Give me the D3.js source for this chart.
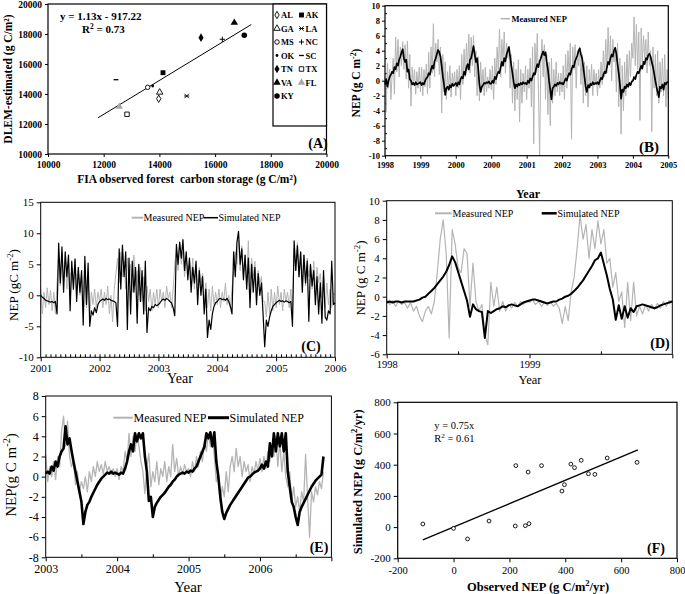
<!DOCTYPE html>
<html><head><meta charset="utf-8">
<script src="https://cdn.jsdelivr.net/npm/d3@7"></script>
<style>body{margin:0;background:#fff}svg{display:block}</style>
</head><body>
<script>
// ---------------- DATA ----------------
// (A) state-level carbon storage
const aStates    = ["AL","AK","GA","LA","MS","NC","OK","SC","TN","TX","VA","FL","KY"];
const aObserved  = [13975,14129,14010,14980,13580,16259,13759,12442,15494,12837,16690,12560,17048];
const aEstimated = [13687,15420,14113,13867,14447,17647,14533,14953,17753,12647,18753,13153,17913];
const aTicks = [10000,12000,14000,16000,18000,20000];
const aFit = {slope:1.13, intercept:-917.22, from:11800, to:17300};

// (B) 30 samples per year, 8 seasonal cycles
const bPerYear = 30;
const bYearLabels = ["1998","1999","2000","2000","2001","2002","2003","2004","2005"];
const bMeasured = [
 0.5,-4.2,2.3,-1.0,1.5,-2.5,0.8,3.0,-1.8,5.8,1.2,5.5,0.5,4.5,2.0,5.2,1.5,4.8,0.2,5.3,-1.0,3.5,-3.4,1.8,-0.5,1.5,-1.8,1.2,-1.0,1.8,
 -1.5,1.8,-2.0,1.5,-0.8,2.2,-1.8,3.8,-1.0,4.5,1.0,7.6,0.5,5.0,2.5,5.5,0.8,4.5,-4.3,3.5,-1.5,2.5,-2.5,1.2,-1.2,2.0,-2.2,1.0,-0.5,1.2,
 -2.0,1.5,-1.0,2.0,-2.5,3.5,-0.5,4.2,0.5,5.0,1.5,6.2,1.0,5.8,2.0,6.0,0.5,4.0,-2.0,3.2,-2.7,2.5,-1.0,1.5,-2.0,1.8,-1.5,0.5,-1.0,1.5,
 -1.2,2.0,-2.5,3.0,-0.5,4.5,1.0,6.9,0.5,5.5,2.5,6.5,1.0,5.0,3.0,4.5,-1.0,3.5,-3.0,2.5,-4.0,1.5,-2.5,2.8,-5.5,1.5,-3.0,1.0,-1.5,2.0,
 -2.5,1.5,-1.0,3.0,-3.5,4.5,-8.4,5.0,1.0,6.3,-1.5,-10.0,2.5,5.5,0.5,4.8,-2.5,3.5,-4.5,2.5,-6.0,3.0,-3.0,1.5,-2.0,2.5,-1.5,1.0,-2.0,1.0,
 -1.5,2.0,-2.5,3.5,-1.0,4.0,0.5,5.0,-7.8,4.5,1.5,4.8,-1.0,4.0,2.0,4.5,-0.5,3.5,-3.0,2.5,-2.0,2.0,-3.5,1.5,-1.0,2.2,-2.0,1.5,-0.5,1.0,
 -2.0,1.5,-1.0,2.5,-0.5,4.0,0.5,5.5,1.0,7.1,2.0,6.0,0.0,5.5,2.5,4.0,-1.5,5.0,-3.5,3.0,-7.1,2.0,-4.0,2.5,-2.0,3.5,-1.0,4.0,0.5,5.0,
 3.0,8.5,2.0,7.5,1.5,6.5,-5.3,7.0,2.5,6.0,3.0,5.5,1.0,6.5,2.0,4.0,-6.8,4.5,-1.0,3.5,-2.0,4.0,-3.0,2.5,-1.5,3.0,-2.0,3.5,-3.5,1.5,
 -2.4];
const bSimulated = [
 -0.5,0.2,-0.8,0.0,0.5,0.8,1.2,1.0,1.8,1.5,2.3,2.0,2.8,3.2,3.8,4.2,3.0,2.5,2.8,1.2,1.5,0.2,0.0,-0.5,-0.3,-0.6,-0.2,-0.5,-0.4,-0.3,
 -0.2,-0.6,-0.3,-0.5,0.0,0.3,0.5,1.0,0.8,1.5,2.0,1.6,2.6,3.0,3.6,4.1,3.8,3.2,2.0,0.5,-0.5,-1.9,-1.0,-0.8,-1.2,-0.6,-0.9,-0.4,-0.7,-0.5,
 -0.3,-0.7,-0.2,-0.5,0.2,0.5,0.3,1.2,0.8,1.8,2.2,1.5,2.8,3.0,3.8,4.6,3.5,2.5,3.0,1.5,-0.5,-1.5,-0.8,-0.6,-0.3,-0.4,-0.2,-0.3,-0.1,-0.4,
 -0.4,0.0,-0.3,0.5,0.2,0.8,1.2,1.0,1.8,2.5,2.0,3.0,2.6,3.5,4.0,4.5,3.2,2.0,1.0,-0.2,-1.0,-0.5,-0.8,-0.4,-0.6,-0.3,-0.5,-0.2,-0.4,-0.3,
 -0.5,0.0,-0.3,0.3,0.0,0.5,1.0,0.8,1.6,2.2,1.8,2.6,3.0,3.5,3.9,3.4,3.8,2.5,1.5,0.0,-1.2,-2.5,-1.0,-0.8,-0.5,-0.7,-0.3,-0.5,-0.2,-0.4,
 -0.3,-0.5,-0.1,0.3,0.0,0.6,1.0,0.8,1.5,2.0,1.8,2.6,3.0,3.4,4.0,4.3,3.5,3.0,1.8,0.5,-0.8,-1.5,-0.6,-0.9,-0.4,-0.6,-0.2,-0.5,-0.3,-0.4,
 -0.2,-0.5,0.0,0.4,0.2,0.8,1.2,1.0,1.8,2.5,2.2,3.0,3.5,3.2,4.0,4.4,3.6,2.2,1.0,-0.5,-2.4,-1.2,-1.5,-0.8,-1.0,-0.5,-0.8,-0.3,-0.6,-0.1,
 0.0,0.5,0.2,0.8,1.2,1.0,1.5,2.0,1.6,2.5,2.2,3.0,2.8,3.4,3.6,3.2,2.5,1.8,1.0,0.0,-0.8,-1.5,-2.2,-0.8,-1.0,-0.5,-1.2,-0.3,-0.5,-0.2,
 -0.2];

// (C) 36 samples per year, 2001-2006
const cPerYear = 36, cStart = 2001;
const cMeasured = [
 1.0,-3.0,0.5,-2.0,1.2,-1.5,0.8,-2.5,0.5,-3.0,2.0,6.5,1.5,7.0,2.5,6.0,1.0,5.5,0.0,4.5,2.0,6.0,1.0,4.0,0.0,3.5,-1.0,5.0,-2.0,3.0,-3.0,0.5,-1.5,1.0,-2.0,0.5,
 -1.0,1.0,-2.0,0.5,-1.5,1.5,-3.0,0.0,-4.3,1.0,3.5,6.0,2.0,7.0,3.0,5.5,1.0,6.0,2.0,5.0,0.5,6.5,1.5,4.0,0.0,4.5,-1.0,3.0,-2.5,1.5,-1.0,1.0,-2.5,0.5,-1.5,1.0,
 -2.0,1.0,-1.0,0.5,-2.0,1.5,-0.5,0.5,-2.0,1.0,5.0,7.5,4.0,8.5,5.0,7.0,3.0,6.0,4.0,5.5,2.5,6.0,1.0,5.0,0.5,4.5,2.0,3.5,-1.0,2.0,-2.0,1.0,-2.5,1.5,-1.5,0.5,
 -1.5,1.0,-2.0,0.5,-1.0,2.0,-1.5,0.0,-2.0,1.0,4.0,7.0,5.0,9.0,4.0,8.0,3.5,6.5,2.0,8.8,1.5,6.0,3.0,5.5,0.5,4.0,2.0,3.0,-1.0,-1.0,-3.5,0.5,-3.0,1.0,-2.5,0.5,
 -2.0,1.5,-1.5,0.5,-2.5,1.0,-1.0,0.5,-2.0,1.0,-3.0,7.5,4.0,8.5,3.0,7.0,2.5,6.5,1.5,6.0,3.0,5.0,1.0,5.5,0.5,4.5,2.0,3.5,-0.5,3.0,-2.0,2.0,-1.5,1.0,-2.0,0.5,
 0.0];
const cSimulated = [
 0.0,-0.3,-0.5,-0.8,-0.9,-1.0,-1.1,-1.0,-1.2,-1.0,-3.0,8.4,2.0,7.8,0.5,7.0,3.0,6.5,-2.5,5.5,1.0,5.8,-1.0,4.5,0.5,4.0,-4.8,6.3,-1.5,5.2,-5.0,-2.5,-3.2,-2.0,-2.8,-1.5,
 -1.0,-0.8,-0.6,-0.8,-0.5,-0.7,-0.6,-0.8,-0.9,-1.0,-1.2,-5.0,7.5,1.0,8.1,3.0,7.0,-5.5,6.0,-3.0,5.5,0.5,4.5,-4.5,5.0,-1.0,4.0,-3.0,5.5,-6.0,-2.0,-2.5,-1.8,-2.0,-1.5,-1.7,
 -1.5,-1.2,-0.8,-0.6,-0.8,-0.5,-0.7,-1.0,-1.2,-2.0,-3.3,8.2,5.0,8.6,6.0,9.0,4.0,7.0,2.5,6.0,0.5,4.5,2.0,5.5,-1.5,4.0,0.0,3.0,-3.0,1.0,-6.8,-4.0,-5.5,-3.0,-1.8,-1.2,
 -1.0,-0.6,-0.5,-0.7,-0.6,-0.8,-0.5,-1.0,-1.8,-3.0,7.0,3.0,8.5,10.3,5.0,7.5,2.5,6.5,1.0,6.0,-2.0,5.0,0.5,4.5,-1.5,3.5,0.0,2.0,-3.0,-8.3,-4.0,-5.0,-3.5,-2.5,-1.8,-1.5,
 -1.2,-1.0,-0.8,-1.0,-0.9,-1.1,-0.9,-1.0,-1.2,-1.0,-5.0,8.8,4.0,8.0,3.0,7.0,0.5,6.5,2.0,5.5,-4.2,5.0,1.5,4.0,-1.5,3.0,-3.0,2.0,-4.5,4.0,-3.5,-4.0,-2.5,-3.0,5.5,-1.5,
 -1.2];

// (D) 48 samples per year, 1998-2000
const dPerYear = 48, dStart = 1998;
const dMeasured = [
 -0.3,-0.8,-0.4,-1.0,-0.5,-0.8,-0.6,-1.2,-0.6,-1.5,-1.0,-2.0,-2.6,-1.5,-1.0,-1.8,-0.5,
 2.5,6.0,8.0,4.5,-4.3,7.0,5.5,3.0,2.5,5.0,4.5,-1.0,3.5,-0.5,-1.5,-0.8,-4.0,-5.0,
 1.5,-1.0,1.0,-1.5,-0.5,-1.5,-0.8,-1.2,-0.6,-1.0,-0.5,-0.8,-0.4,
 -0.6,-0.3,-0.8,-0.5,-1.0,-0.6,-0.9,-0.5,-1.0,-0.7,-1.2,-2.8,-1.0,-2.5,
 0.5,2.0,5.0,8.5,6.0,7.5,4.0,7.0,5.0,7.9,5.5,7.0,3.5,4.0,1.0,2.5,-0.5,0.5,
 -3.2,1.5,-2.5,1.5,-2.0,-1.0,-1.8,-0.8,-1.5,-0.8,-1.3,-0.7,-1.2,-0.5,-1.0,-0.4,-0.6];
const dSimulated = [
 -0.6,-0.5,-0.6,-0.5,-0.5,-0.6,-0.5,-0.5,-0.5,
 -0.5,-0.4,-0.3,-0.1,0.0,0.3,0.6,0.9,1.3,1.7,2.1,2.6,3.3,
 4.2,3.6,2.6,1.6,0.6,-0.4,-2.1,-0.8,-1.3,-1.5,-1.6,
 -4.3,
 -1.5,-1.7,-1.5,-1.3,-1.2,-1.0,-1.1,-0.9,-0.8,-0.9,-1.0,-0.8,-0.6,-0.5,
 -0.4,-0.3,-0.3,-0.4,-0.5,-0.6,-0.7,-0.6,-0.5,-0.5,-0.3,-0.2,
 0.0,0.1,0.3,0.6,0.9,1.3,1.7,2.2,2.7,3.2,3.8,4.0,
 4.6,3.4,2.2,0.8,-0.3,-2.4,-0.9,-2.3,-1.0,-2.2,-1.2,-1.6,
 -1.0,-0.9,-0.8,-0.9,-1.0,-1.1,-1.2,-1.1,-0.9,-0.8,-0.7,-0.6,-0.5];

// (E) 36 samples per year from 2003
const ePerYear = 36, eStart = 2003;
const eMeasured = [
 2.2,-0.5,1.0,0.0,1.5,-0.3,2.0,1.0,4.5,6.0,3.0,5.5,2.0,1.0,1.5,-0.8,0.5,-1.5,-0.5,-1.2,0.0,-1.5,0.5,-0.5,1.0,0.0,1.5,0.5,1.2,0.3,1.5,0.5,1.0,0.2,0.8,0.0,
 0.8,-0.3,1.0,0.5,2.5,1.5,4.3,2.0,4.0,2.5,4.3,3.0,1.5,0.5,-1.7,1.0,2.3,-1.0,0.5,-0.5,1.5,-0.8,0.8,0.0,1.5,-0.5,1.0,0.0,3.2,0.5,1.8,0.0,1.0,0.2,1.2,0.5,
 0.8,0.0,1.5,0.5,2.0,1.0,2.5,1.5,3.5,2.5,4.3,3.0,4.0,2.0,-0.5,0.5,-2.5,-1.0,-2.0,0.5,-1.5,1.0,2.0,0.5,2.8,1.0,2.0,0.0,1.5,0.5,1.2,-0.5,1.0,0.3,1.5,0.5,
 1.8,0.5,2.0,0.8,2.5,1.5,3.0,2.0,4.0,1.0,3.5,0.5,2.5,0.0,-1.0,0.5,-2.5,-1.0,-3.0,-2.0,-3.5,-1.5,-2.5,2.2,-2.0,-6.0,-1.5,-2.5,-1.0,-1.8,-0.5,-1.2,0.5];
const eSimulated = [
 0.3,0.5,0.3,1.0,0.6,1.5,1.0,2.0,2.5,2.8,5.0,3.2,3.8,2.6,1.5,0.5,-0.5,-1.5,-2.5,-4.7,-3.5,-2.8,-2.5,-2.0,-1.6,-1.2,-0.8,-0.5,-0.2,0.0,0.2,0.4,0.3,0.5,0.3,0.4,
 0.3,0.2,0.4,0.3,0.8,1.5,2.5,3.2,2.5,4.3,3.5,4.3,3.8,4.3,2.0,0.5,-2.4,-2.0,-4.0,-3.0,-2.6,-2.3,-2.0,-1.8,-1.6,-1.3,-1.0,-0.8,-0.5,-0.3,0.0,0.2,0.3,0.4,0.3,0.5,
 0.4,0.6,0.5,0.8,1.0,1.5,2.0,2.5,3.0,4.3,3.8,4.4,3.0,4.4,1.5,0.0,-2.0,-3.5,-4.2,-3.6,-3.2,-2.8,-2.5,-2.2,-1.9,-1.6,-1.3,-1.0,-0.7,-0.4,-0.1,0.0,0.2,0.4,0.5,0.6,
 0.8,1.2,0.8,1.5,1.0,3.3,2.0,4.3,2.5,4.3,3.0,4.3,2.5,4.3,0.5,-1.0,-2.5,-3.0,-4.0,-4.8,-3.5,-3.0,-2.6,-2.2,-1.8,-1.4,-1.0,-0.7,-0.4,-0.2,0.0,0.2,2.0];

// (F) annual NEP per site
const fObserved  = [-110,0,50,127,223,221,267,257,270,315,388,397,420,433,457,483,506,550,657];
const fSimulated = [20,-8,-76,39,394,7,353,9,22,394,231,272,404,381,428,342,338,443,415];
const fFit = {slope:0.75, from:-110, to:660};
const fTicks = [-200,0,200,400,600,800];

// ---------------- DRAWING ----------------
const serif = '"Liberation Serif","Times New Roman",Times,serif';
const GRAY = '#b4b4b4';
const svg = d3.select('body').append('svg').attr('width',685).attr('height',594);
svg.append('rect').attr('width',685).attr('height',594).attr('fill','#fff');

function txt(x, y, parts, o) {
  o = o || {};
  const fs = o.size || 12;
  const t = svg.append('text').attr('font-family', serif).attr('font-size', fs)
    .attr('font-weight', o.bold ? 'bold' : 'normal').attr('text-anchor', o.anchor || 'start').attr('fill','#000');
  if (o.rotate) t.attr('transform', `translate(${x},${y}) rotate(-90)`); else t.attr('x', x).attr('y', y);
  let lift = 0;
  [].concat(parts).forEach(p => {
    const s = t.append('tspan');
    if (Array.isArray(p)) { s.attr('dy', -0.38*fs).attr('font-size', 0.68*fs).text(p[0]); lift = 0.38*fs; }
    else { s.text(p); if (lift) { s.attr('dy', lift); lift = 0; } }
  });
  return t;
}
function axis(gen, tx, ty, size, bold) {
  const g = svg.append('g').attr('transform', `translate(${tx},${ty})`).call(gen);
  g.attr('font-family', serif).attr('font-size', size).attr('font-weight', bold ? 'bold' : 'normal');
  g.select('.domain').remove();
  g.selectAll('line').attr('stroke','#000');
  return g;
}
function frame(x, y, sw) {
  svg.append('rect').attr('x', x.range()[0]).attr('y', y.range()[1])
    .attr('width', x.range()[1]-x.range()[0]).attr('height', y.range()[0]-y.range()[1])
    .attr('fill','none').attr('stroke','#000').attr('stroke-width', sw || 1);
}
function series(data, xf, y, color, w) {
  svg.append('path').datum(data).attr('fill','none').attr('stroke', color).attr('stroke-width', w)
    .attr('stroke-linejoin','round')
    .attr('d', d3.line().x((d,i) => xf(i)).y(d => y(d)));
}
const plain = d => String(d);

// ===== Panel A =====
const ax = d3.scaleLinear().domain([10000,20000]).range([48,326.5]);
const ay = d3.scaleLinear().domain([10000,20000]).range([154,4]);
axis(d3.axisBottom(ax).tickValues(aTicks).tickFormat(plain).tickSize(3).tickPadding(4), 0, 154, 9.5, true);
axis(d3.axisLeft(ay).tickValues(aTicks).tickFormat(plain).tickSize(3).tickPadding(3), 48, 0, 9.5, true);
frame(ax, ay, 1.2);
svg.append('line').attr('x1', ax(aFit.from)).attr('y1', ay(aFit.slope*aFit.from + aFit.intercept))
  .attr('x2', ax(aFit.to)).attr('y2', ay(aFit.slope*aFit.to + aFit.intercept)).attr('stroke','#000').attr('stroke-width',1);

const aMarker = {AL:'diamondOpen', AK:'squareFilled', GA:'triangleOpen', LA:'times', MS:'circleOpen', NC:'plus',
  OK:'dot', SC:'dash', TN:'diamondFilled', TX:'squareOpen', VA:'triangleFilled', FL:'triangleGray', KY:'circleFilled'};
function marker(kind, cx, cy) {
  const g = svg.append('g').attr('transform', `translate(${cx},${cy})`);
  const sym = (type, size) => g.append('path').attr('d', d3.symbol().type(type).size(size)());
  switch (kind) {
    case 'diamondOpen': sym(d3.symbolDiamond, 16).attr('fill','#fff').attr('stroke','#000').attr('stroke-width',0.9); break;
    case 'diamondFilled': sym(d3.symbolDiamond, 22).attr('fill','#000'); break;
    case 'squareFilled': sym(d3.symbolSquare, 24).attr('fill','#000'); break;
    case 'squareOpen': sym(d3.symbolSquare, 20).attr('fill','#fff').attr('stroke','#000').attr('stroke-width',0.9); break;
    case 'triangleOpen': sym(d3.symbolTriangle, 18).attr('fill','#fff').attr('stroke','#000').attr('stroke-width',0.9); break;
    case 'triangleFilled': sym(d3.symbolTriangle, 24).attr('fill','#000'); break;
    case 'triangleGray': sym(d3.symbolTriangle, 24).attr('fill','#a8a8a8'); break;
    case 'circleOpen': sym(d3.symbolCircle, 16).attr('fill','#fff').attr('stroke','#000').attr('stroke-width',0.9); break;
    case 'circleFilled': sym(d3.symbolCircle, 24).attr('fill','#000'); break;
    case 'dot': sym(d3.symbolCircle, 6).attr('fill','#000'); break;
    case 'plus': g.append('path').attr('d','M-2.6,0H2.6M0,-2.6V2.6').attr('stroke','#000').attr('stroke-width',1); break;
    case 'times': g.append('path').attr('d','M-2.2,-2.2L2.2,2.2M-2.2,2.2L2.2,-2.2M-2.6,0H2.6').attr('stroke','#000').attr('stroke-width',0.9); break;
    case 'dash': g.append('path').attr('d','M-2.4,0H2.4').attr('stroke','#000').attr('stroke-width',1.3); break;
  }
}
aStates.forEach((s,i) => marker(aMarker[s], ax(aObserved[i]), ay(aEstimated[i])));
// legend
svg.append('rect').attr('x',273).attr('y',4).attr('width',53.5).attr('height',122).attr('fill','#fff').attr('stroke','#000').attr('stroke-width',1.2);
aStates.forEach((s,i) => {
  const r = Math.floor(i/2), c = i % 2;
  const ly = 15 + r*13.5, lx = c ? 301.5 : 277;
  marker(aMarker[s], lx, ly);
  txt(lx+4, ly+3.2, s, {size:8.5, bold:true});
});
txt(318, 148, '(A)', {size:14, bold:true, anchor:'middle'});
txt(60, 20, 'y = 1.13x - 917.22', {size:11, bold:true});
txt(82, 33, ['R', ['2'], ' = 0.73'], {size:11, bold:true});
txt(12, 79, 'DLEM-estimated (g C/m²)', {size:11.5, bold:true, anchor:'middle', rotate:true});
txt(187, 183, 'FIA observed forest  carbon storage (g C/m²)', {size:11.5, bold:true, anchor:'middle'}).attr('xml:space','preserve');

// ===== Panel B =====
const bx = d3.scaleLinear().domain([0,8]).range([385,668.3]);
const by = d3.scaleLinear().domain([-10,10]).range([155.7,5.7]);
axis(d3.axisBottom(bx).tickValues(d3.range(9)).tickFormat(i => bYearLabels[i]).tickSize(3).tickPadding(3), 0, 155.7, 8.5, true);
axis(d3.axisLeft(by).tickValues(d3.range(-10,11,2)).tickFormat(plain).tickSize(3).tickPadding(2), 385, 0, 8.5, true);
axis(d3.axisLeft(by).tickValues(d3.range(-9,10,2)).tickFormat('').tickSize(-2), 385, 0, 8, true);
series(bMeasured, i => bx(i/bPerYear), by, GRAY, 1);
series(bSimulated, i => bx(i/bPerYear), by, '#000', 1.7);
frame(bx, by, 1.2);
svg.append('line').attr('x1',500.7).attr('x2',510).attr('y1',18.7).attr('y2',18.7).attr('stroke',GRAY).attr('stroke-width',1.5);
txt(511.5, 21.5, 'Measured NEP', {size:8.5, bold:true});
txt(649, 152, '(B)', {size:15, bold:true, anchor:'middle'});
txt(360, 83, ['NEP (g C m', ['-2'], ')'], {size:11.5, bold:true, anchor:'middle', rotate:true});
txt(528, 198, 'Year', {size:12, bold:true, anchor:'middle'});

// ===== Panel C =====
const cx = d3.scaleLinear().domain([2001,2006]).range([40.7,335]);
const cy = d3.scaleLinear().domain([-10,15]).range([357.3,202.3]);
axis(d3.axisBottom(cx).tickValues(d3.range(2001,2007)).tickFormat(plain).tickSize(4).tickPadding(3), 0, 357.3, 11, false);
axis(d3.axisBottom(cx).tickValues(d3.range(1,60).map(m => 2001 + m/12)).tickFormat('').tickSize(-3), 0, 357.3, 11, false);
axis(d3.axisLeft(cy).tickValues(d3.range(-10,16,5)).tickFormat(plain).tickSize(4).tickPadding(3), 40.7, 0, 11, false);
series(cMeasured, i => cx(cStart + i/cPerYear), cy, GRAY, 1);
series(cSimulated, i => cx(cStart + i/cPerYear), cy, '#000', 1.2);
frame(cx, cy, 1);
svg.append('line').attr('x1',131.7).attr('x2',143.3).attr('y1',217.7).attr('y2',217.7).attr('stroke',GRAY).attr('stroke-width',2);
txt(143.5, 221.3, 'Measured NEP', {size:10});
svg.append('line').attr('x1',203.5).attr('x2',218).attr('y1',217.7).attr('y2',217.7).attr('stroke','#000').attr('stroke-width',1.5);
txt(218.5, 221.3, 'Simulated NEP', {size:10});
txt(311, 351, '(C)', {size:14, bold:true, anchor:'middle'});
txt(18, 285, ['NEP (gC m', ['-2'], ')'], {size:13, anchor:'middle', rotate:true});
txt(180, 383, 'Year', {size:14, anchor:'middle'});

// ===== Panel D =====
const dx = d3.scaleLinear().domain([1998,2000]).range([386.7,672.3]);
const dy = d3.scaleLinear().domain([-6,10]).range([354.3,200.7]);
axis(d3.axisBottom(dx).tickValues([1998,1999,2000]).tickFormat(d => d < 2000 ? String(d) : '').tickSize(4).tickPadding(2), 0, 354.3, 10.5, false);
axis(d3.axisBottom(dx).tickValues([1998.5,1999.5]).tickFormat('').tickSize(-3), 0, 354.3, 10.5, false);
axis(d3.axisLeft(dy).tickValues(d3.range(-6,11,2)).tickFormat(plain).tickSize(4).tickPadding(3), 386.7, 0, 11, false);
series(dMeasured, i => dx(dStart + i/dPerYear), dy, GRAY, 1.2);
series(dSimulated, i => dx(dStart + i/dPerYear), dy, '#000', 2);
frame(dx, dy, 1);
svg.append('line').attr('x1',435).attr('x2',451.7).attr('y1',213.3).attr('y2',213.3).attr('stroke',GRAY).attr('stroke-width',2);
txt(452.5, 217, 'Measured NEP', {size:10});
svg.append('line').attr('x1',541.7).attr('x2',556.7).attr('y1',213.3).attr('y2',213.3).attr('stroke','#000').attr('stroke-width',2.5);
txt(557.5, 217, 'Simulated NEP', {size:10});
txt(660, 348, '(D)', {size:14, bold:true, anchor:'middle'});
txt(365, 278, ['NEP (g C m', ['-2'], ')'], {size:13, anchor:'middle', rotate:true});
txt(530, 384, 'Year', {size:12.5, anchor:'middle'});

// ===== Panel E =====
const ex = d3.scaleLinear().domain([2003,2007]).range([45.7,331.4]);
const ey = d3.scaleLinear().domain([-8,8]).range([557.3,396]);
axis(d3.axisBottom(ex).tickValues([2003,2004,2005,2006,2007]).tickFormat(d => d < 2007 ? String(d) : '').tickSize(4).tickPadding(3), 0, 557.3, 12, false);
axis(d3.axisBottom(ex).tickValues([2003.5,2004.5,2005.5,2006.5]).tickFormat('').tickSize(-3), 0, 557.3, 12, false);
axis(d3.axisLeft(ey).tickValues(d3.range(-8,9,2)).tickFormat(plain).tickSize(4).tickPadding(3), 45.7, 0, 12, false);
series(eMeasured, i => ex(eStart + i/ePerYear), ey, GRAY, 1.3);
series(eSimulated, i => ex(eStart + i/ePerYear), ey, '#000', 2.6);
frame(ex, ey, 1);
svg.append('line').attr('x1',113.3).attr('x2',132.7).attr('y1',417.7).attr('y2',417.7).attr('stroke',GRAY).attr('stroke-width',2);
txt(133.5, 422, 'Measured NEP', {size:12});
svg.append('line').attr('x1',208).attr('x2',229).attr('y1',417.7).attr('y2',417.7).attr('stroke','#000').attr('stroke-width',3);
txt(229.5, 422, 'Simulated NEP', {size:12});
txt(319, 552, '(E)', {size:14, bold:true, anchor:'middle'});
txt(16, 475, ['NEP(g C m', ['-2'], ')'], {size:15, anchor:'middle', rotate:true});
txt(188, 592, 'Year', {size:15, anchor:'middle'});

// ===== Panel F =====
const fx = d3.scaleLinear().domain([-200,800]).range([397.7,677]);
const fy = d3.scaleLinear().domain([-200,800]).range([558.3,402.3]);
axis(d3.axisBottom(fx).tickValues(fTicks).tickFormat(plain).tickSize(4).tickPadding(4), 0, 558.3, 10.5, false);
axis(d3.axisLeft(fy).tickValues(fTicks).tickFormat(plain).tickSize(4).tickPadding(3), 397.7, 0, 11, false);
frame(fx, fy, 1.2);
svg.append('line').attr('x1', fx(fFit.from)).attr('y1', fy(fFit.slope*fFit.from))
  .attr('x2', fx(fFit.to)).attr('y2', fy(fFit.slope*fFit.to)).attr('stroke','#000').attr('stroke-width',1.3);
svg.selectAll('circle.f').data(fObserved).enter().append('circle').attr('class','f')
  .attr('cx', d => fx(d)).attr('cy', (d,i) => fy(fSimulated[i])).attr('r', 1.9)
  .attr('fill','#fff').attr('stroke','#000').attr('stroke-width',0.9);
txt(434.3, 429, 'y = 0.75x', {size:10.5});
txt(434.3, 441.5, ['R', ['2'], ' = 0.61'], {size:10.5});
txt(656, 553, '(F)', {size:14, bold:true, anchor:'middle'});
txt(362, 481.7, ['Simulated NEP (g C/m', ['2'], '/yr)'], {size:12.5, bold:true, anchor:'middle', rotate:true});
txt(538, 591, ['Observed NEP (g C/m', ['2'], '/yr)'], {size:12.5, bold:true, anchor:'middle'});
</script>
</body></html>
